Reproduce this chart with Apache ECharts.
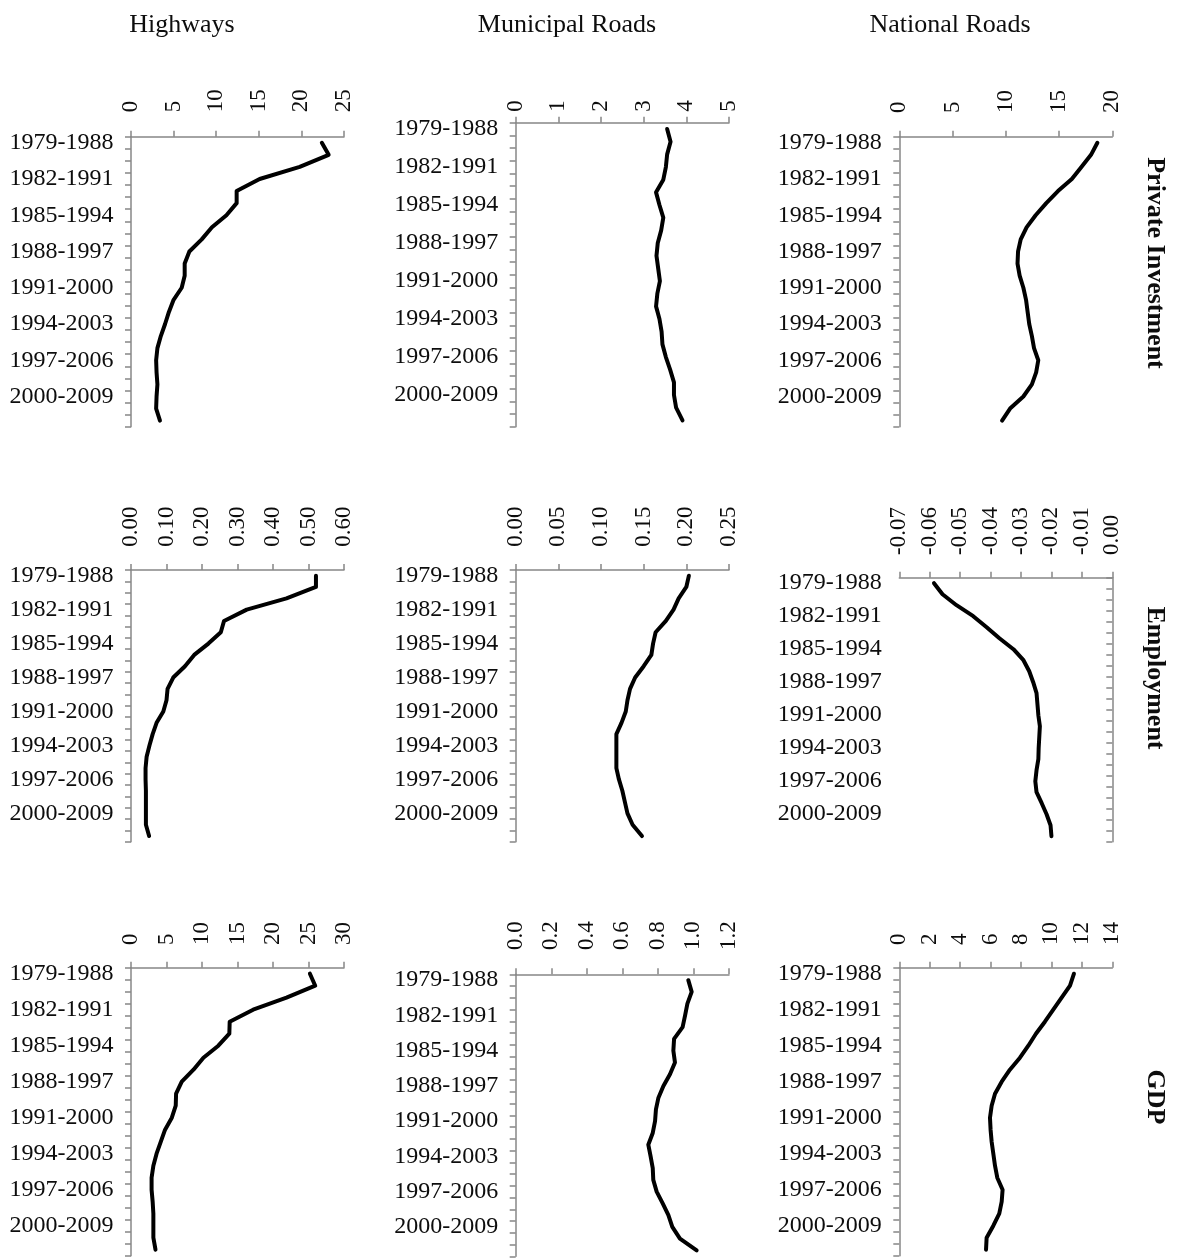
<!DOCTYPE html>
<html>
<head>
<meta charset="utf-8">
<title>Road infrastructure effects by period</title>
<script src="https://cdn.jsdelivr.net/npm/echarts@6/dist/echarts.min.js"></script>
<style>
  html, body { margin: 0; padding: 0; background: #ffffff; }
  #chart { width: 1177px; height: 1258px; }
</style>
</head>
<body>
<div id="chart"></div>
<script>
// Ten-year rolling windows (category axis)
const periods = [
  '1979-1988', '1980-1989', '1981-1990', '1982-1991', '1983-1992', '1984-1993',
  '1985-1994', '1986-1995', '1987-1996', '1988-1997', '1989-1998', '1990-1999',
  '1991-2000', '1992-2001', '1993-2002', '1994-2003', '1995-2004', '1996-2005',
  '1997-2006', '1998-2007', '1999-2008', '2000-2009', '2001-2010', '2002-2011'
];

const columnTitles = ['Highways', 'Municipal Roads', 'National Roads'];
const rowTitles = ['Private Investment', 'Employment', 'GDP'];

// Private investment
const hwInvestment = [22.4, 23.2, 19.8, 15.1, 12.4, 12.4, 11.2, 9.5, 8.3, 6.85, 6.3, 6.3,
  5.95, 5.0, 4.45, 4.0, 3.5, 3.1, 2.95, 3.0, 3.1, 3.0, 2.95, 3.4];
const munInvestment = [3.55, 3.63, 3.55, 3.52, 3.46, 3.29, 3.37, 3.46, 3.41, 3.33, 3.30, 3.34,
  3.38, 3.32, 3.29, 3.37, 3.42, 3.44, 3.52, 3.62, 3.71, 3.71, 3.76, 3.91];
const natInvestment = [18.6, 18.0, 17.1, 16.2, 14.9, 13.8, 12.8, 11.95, 11.4, 11.15, 11.1, 11.3,
  11.65, 11.9, 12.05, 12.2, 12.45, 12.65, 13.05, 12.85, 12.45, 11.65, 10.4, 9.65];

// Employment
const hwEmployment = [0.521, 0.521, 0.438, 0.326, 0.262, 0.253, 0.218, 0.178, 0.152, 0.119, 0.103, 0.100,
  0.091, 0.072, 0.061, 0.052, 0.044, 0.041, 0.041, 0.042, 0.042, 0.042, 0.042, 0.051];
const munEmployment = [0.203, 0.200, 0.191, 0.185, 0.176, 0.164, 0.161, 0.159, 0.150, 0.140, 0.134, 0.131,
  0.129, 0.124, 0.118, 0.118, 0.118, 0.118, 0.121, 0.125, 0.128, 0.131, 0.137, 0.148];
const natEmployment = [-0.0586, -0.0558, -0.0512, -0.0457, -0.0413, -0.0371, -0.0325, -0.0292, -0.0273, -0.0260, -0.0249, -0.0246,
  -0.0243, -0.0238, -0.0240, -0.0242, -0.0243, -0.0249, -0.0253, -0.0249, -0.0232, -0.0216, -0.0203, -0.0200];

// GDP
const hwGdp = [25.2, 25.95, 21.9, 17.2, 13.9, 13.85, 12.3, 10.2, 8.8, 7.15, 6.35, 6.3,
  5.75, 4.8, 4.2, 3.6, 3.15, 2.9, 2.9, 3.05, 3.15, 3.15, 3.15, 3.45];
const munGdp = [0.971, 0.990, 0.966, 0.953, 0.939, 0.891, 0.887, 0.896, 0.868, 0.831, 0.803, 0.789,
  0.784, 0.771, 0.746, 0.759, 0.771, 0.774, 0.793, 0.827, 0.859, 0.881, 0.924, 1.018];
const natGdp = [11.48, 11.22, 10.67, 10.12, 9.57, 8.98, 8.48, 7.93, 7.27, 6.73, 6.29, 6.07,
  5.96, 6.0, 6.07, 6.18, 6.29, 6.44, 6.79, 6.73, 6.57, 6.18, 5.74, 5.70];

// Value-axis scales: [min, max, interval, decimals]
const hwInvestmentScale = [0, 25, 5, 0];
const munInvestmentScale = [0, 5, 1, 0];
const natInvestmentScale = [0, 20, 5, 0];
const hwEmploymentScale = [0, 0.6, 0.1, 2];
const munEmploymentScale = [0, 0.25, 0.05, 2];
const natEmploymentScale = [-0.07, 0, 0.01, 2];
const hwGdpScale = [0, 30, 5, 0];
const munGdpScale = [0, 1.2, 0.2, 1];
const natGdpScale = [0, 14, 2, 0];

// Panel order: row by row, columns Highways / Municipal / National
const panelSeries = [
  [hwInvestment, hwInvestmentScale], [munInvestment, munInvestmentScale], [natInvestment, natInvestmentScale],
  [hwEmployment, hwEmploymentScale], [munEmployment, munEmploymentScale], [natEmployment, natEmploymentScale],
  [hwGdp, hwGdpScale], [munGdp, munGdpScale], [natGdp, natGdpScale]
];

// Plot boxes for the nine panels and the gap between value labels and axis line
const panelBoxes = [
  { left: 131,   top: 136.7, width: 213, height: 290,   labelGap: 24.5 },
  { left: 515.7, top: 122.7, width: 213.3, height: 304, labelGap: 11 },
  { left: 899.3, top: 136.7, width: 213, height: 290,   labelGap: 23.7 },
  { left: 131,   top: 570,   width: 213, height: 271.7, labelGap: 23.3 },
  { left: 515.7, top: 570,   width: 213.3, height: 271.7, labelGap: 23.3 },
  { left: 899.3, top: 577.7, width: 213, height: 264,   labelGap: 22.7 },
  { left: 131,   top: 967.7, width: 213, height: 288,   labelGap: 22.7 },
  { left: 515.7, top: 974.3, width: 213.3, height: 282, labelGap: 24.3 },
  { left: 899.3, top: 967.7, width: 213, height: 288,   labelGap: 22.7 }
];

const FONT = "'Liberation Serif', 'DejaVu Serif', serif";
const AXIS_COLOR = '#878787';
const TEXT_COLOR = '#0d0d0d';

const grids = [], xAxes = [], yAxes = [], series = [];

panelSeries.forEach(function (entry, i) {
  const values = entry[0];
  const scale = entry[1];
  const box = panelBoxes[i];
  const crossesAtMax = scale[1] === 0; // category line sits at value 0 on the right

  grids.push({
    left: box.left, top: box.top, width: box.width, height: box.height,
    containLabel: false, outerBoundsMode: 'none'
  });

  xAxes.push({
    type: 'value', gridIndex: i, position: 'top',
    min: scale[0], max: scale[1], interval: scale[2],
    axisLine: { show: true, onZero: false, lineStyle: { color: AXIS_COLOR, width: 1.5 } },
    axisTick: { show: true, length: 6, lineStyle: { color: AXIS_COLOR, width: 1.5 } },
    splitLine: { show: false },
    axisLabel: {
      rotate: -90, margin: box.labelGap, color: TEXT_COLOR,
      fontFamily: FONT, fontSize: 23,
      formatter: function (v) { return Number(v).toFixed(scale[3]); }
    }
  });

  const yIndex = yAxes.length;
  yAxes.push({
    type: 'category', gridIndex: i, data: periods, inverse: true,
    position: 'left', boundaryGap: true,
    axisLine: { show: !crossesAtMax, onZero: false, lineStyle: { color: AXIS_COLOR, width: 1.5 } },
    axisTick: { show: !crossesAtMax, interval: 0, length: 6, alignWithLabel: false,
      lineStyle: { color: AXIS_COLOR, width: 1.5 } },
    splitLine: { show: false },
    axisLabel: {
      interval: 2, margin: 17.5, color: TEXT_COLOR,
      fontFamily: FONT, fontSize: 24, padding: [4, 0, 0, 0]
    }
  });

  if (crossesAtMax) {
    // axis line with inward ticks along the zero edge
    yAxes.push({
      type: 'category', gridIndex: i, data: periods, inverse: true,
      position: 'right', boundaryGap: true,
      axisLine: { show: true, onZero: false, lineStyle: { color: AXIS_COLOR, width: 1.5 } },
      axisTick: { show: true, inside: true, interval: 0, length: 6, alignWithLabel: false,
        lineStyle: { color: AXIS_COLOR, width: 1.5 } },
      axisLabel: { show: false },
      splitLine: { show: false }
    });
  }

  series.push({
    type: 'line', xAxisIndex: i, yAxisIndex: yIndex,
    data: values, symbol: 'none', smooth: false,
    lineStyle: { color: '#000000', width: 4, join: 'round', cap: 'round' },
    silent: true, animation: false
  });
});

// Column headers and rotated row headers
const colCenters = [182, 567, 950];
const rowCenters = [263, 678, 1097];
const graphics = [];
columnTitles.forEach(function (t, c) {
  graphics.push({
    type: 'text', x: colCenters[c], y: 25,
    style: { text: t, font: "26px " + FONT, fill: TEXT_COLOR,
      textAlign: 'center', textVerticalAlign: 'middle', align: 'center', verticalAlign: 'middle' }
  });
});
rowTitles.forEach(function (t, r) {
  graphics.push({
    type: 'text', x: 1155, y: rowCenters[r], rotation: -Math.PI / 2,
    style: { text: t, font: "bold 26px " + FONT, fill: TEXT_COLOR,
      textAlign: 'center', textVerticalAlign: 'middle', align: 'center', verticalAlign: 'middle' }
  });
});

const chart = echarts.init(document.getElementById('chart'), null, { renderer: 'canvas' });
chart.setOption({
  animation: false,
  backgroundColor: '#ffffff',
  grid: grids,
  xAxis: xAxes,
  yAxis: yAxes,
  series: series,
  graphic: graphics
});
</script>
</body>
</html>
